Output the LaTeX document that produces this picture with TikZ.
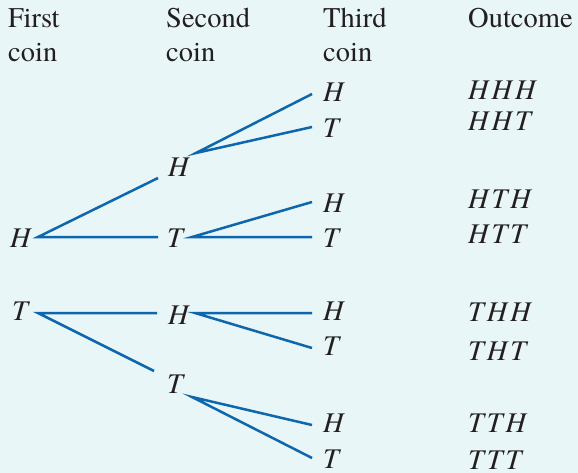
\documentclass[tikz,border=0pt]{standalone}
\usepackage{fontspec}
\setmainfont{texgyretermes}[Extension=.otf,UprightFont=*-regular,ItalicFont=*-italic,BoldFont=*-bold,BoldItalicFont=*-bolditalic]
\newfontfamily\outfont{texgyretermes}[Extension=.otf,UprightFont=*-regular,ItalicFont=*-italic,LetterSpace=10]
\definecolor{bgc}{RGB}{232,246,248}
\definecolor{linec}{RGB}{14,102,172}
\definecolor{txtc}{RGB}{35,31,32}
\begin{document}
\begin{tikzpicture}[x=1pt,y=-1pt,
  lbl/.style={anchor=base west,inner sep=0pt,text=txtc,font=\fontsize{28.5}{34}\selectfont},
  coinlbl/.style={lbl,font=\fontsize{28.5}{34}\selectfont\itshape},
  outlbl/.style={lbl,font=\fontsize{28.5}{34}\selectfont\outfont\itshape},
  branch/.style={draw=linec,line width=2.5pt}]
\fill[bgc] (0,0) rectangle (578,473);
\useasboundingbox (0,0) rectangle (578,473);
% headers
\node[lbl] (h1a) at (8,28) {First};
\node[lbl] (h1b) at (8,62) {coin};
\node[lbl] (h2a) at (166,28) {Second};
\node[lbl] (h2b) at (166,62) {coin};
\node[lbl] (h3a) at (323,28) {Third};
\node[lbl] (h3b) at (323,62) {coin};
\node[lbl] (h4a) at (468,28) {Outcome};
% first coin
\node[coinlbl] (aH) at (10,247) {H};
\node[coinlbl] (aT) at (12,320) {T};
% second coin
\node[coinlbl] (bHH) at (168,177) {H};
\node[coinlbl] (bHT) at (167,247) {T};
\node[coinlbl] (bTH) at (168,324) {H};
\node[coinlbl] (bTT) at (167,393) {T};
% third coin
\node[coinlbl] (cHHH) at (323,102) {H};
\node[coinlbl] (cHHT) at (323,138) {T};
\node[coinlbl] (cHTH) at (323,212) {H};
\node[coinlbl] (cHTT) at (323,247) {T};
\node[coinlbl] (cTHH) at (323,320) {H};
\node[coinlbl] (cTHT) at (323,355) {T};
\node[coinlbl] (cTTH) at (323,432) {H};
\node[coinlbl] (cTTT) at (323,468) {T};
% outcomes
\node[outlbl] (oHHH) at (468,100) {HHH};
\node[outlbl] (oHHT) at (468,131) {HHT};
\node[outlbl] (oHTH) at (468,208) {HTH};
\node[outlbl] (oHTT) at (468,243) {HTT};
\node[outlbl] (oTHH) at (468,321) {THH};
\node[outlbl] (oTHT) at (468,360) {THT};
\node[outlbl] (oTTH) at (468,432) {TTH};
\node[outlbl] (oTTT) at (468,469) {TTT};
% branch points
\coordinate (aH-out) at (38,237);
\coordinate (aT-out) at (38,313);
\coordinate (bHH-in) at (158,178);
\coordinate (bHT-in) at (158,237);
\coordinate (bTH-in) at (157,313);
\coordinate (bTT-in) at (154,371);
\coordinate (bHH-out) at (196,153);
\coordinate (bHT-out) at (192,237);
\coordinate (bTH-out) at (195,313);
\coordinate (bTT-out) at (192,397);
\coordinate (cHHH-in) at (312,94);
\coordinate (cHHT-in) at (312,127);
\coordinate (cHTH-in) at (312,202);
\coordinate (cHTT-in) at (312,237);
\coordinate (cTHH-in) at (312,313);
\coordinate (cTHT-in) at (312,348);
\coordinate (cTTH-in) at (312,425);
\coordinate (cTTT-in) at (312,458);
% branches
\draw[branch] (bHH-in) -- (aH-out) -- (bHT-in);
\draw[branch] (bTH-in) -- (aT-out) -- (bTT-in);
\draw[branch] (cHHH-in) -- (bHH-out) -- (cHHT-in);
\draw[branch] (cHTH-in) -- (bHT-out) -- (cHTT-in);
\draw[branch] (cTHH-in) -- (bTH-out) -- (cTHT-in);
\draw[branch] (cTTH-in) -- (bTT-out) -- (cTTT-in);
\end{tikzpicture}
\end{document}
